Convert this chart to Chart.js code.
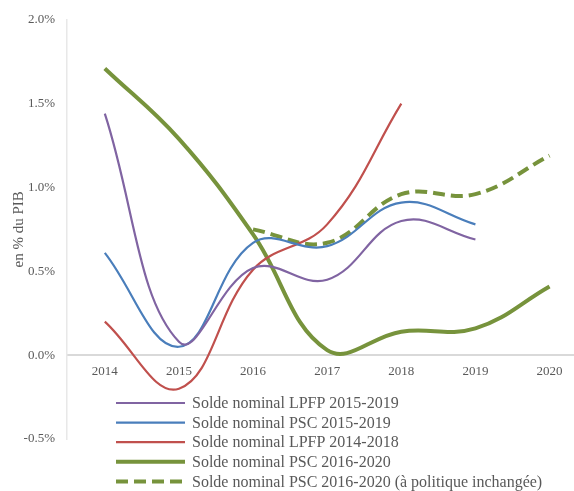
<!DOCTYPE html>
<html>
<head>
<meta charset="utf-8">
<script src="https://cdn.jsdelivr.net/npm/chart.js@4/dist/chart.umd.min.js"></script>
<style>
  html, body { margin: 0; padding: 0; background: #fff; }
  #wrap { width: 574px; height: 491px; }
</style>
</head>
<body>
<div id="wrap"><canvas id="chart"></canvas></div>
<script>
const years = [2014, 2015, 2016, 2017, 2018, 2019, 2020];
const lpfp1519 = [1.44, 0.08, 0.52, 0.45, 0.80, 0.69, null];
const psc1519 = [0.61, 0.05, 0.67, 0.65, 0.91, 0.78, null];
const lpfp1418 = [0.20, -0.20, 0.51, 0.78, 1.50, null, null];
const psc1620 = [1.71, 1.29, 0.72, 0.03, 0.14, 0.16, 0.41];
const psc1620inch = [null, null, 0.75, 0.67, 0.96, 0.96, 1.19];
const yTicks = [-0.5, 0, 0.5, 1.0, 1.5, 2.0];

const serif = "'Liberation Serif', 'Times New Roman', serif";
const grey = '#595959';

const pts = vals => years.map((y, i) => ({ x: y, y: vals[i] })).filter(p => p.y !== null);

const line = (label, vals, color, width, dash) => ({
  label, data: pts(vals),
  borderColor: color, backgroundColor: color,
  borderWidth: width, borderDash: dash || [],
  pointRadius: 0, tension: 0.4, fill: false
});

// legend drawn in a column below the plot, like the Excel original
const legendPlugin = {
  id: 'colLegend',
  afterDraw(chart) {
    const ctx = chart.ctx;
    ctx.save();
    ctx.font = '16px ' + serif;
    ctx.textBaseline = 'middle';
    chart.data.datasets.forEach((ds, i) => {
      const y = 403 + i * 19.6;
      ctx.strokeStyle = ds.borderColor;
      ctx.lineWidth = ds.borderWidth;
      ctx.setLineDash(ds.borderDash);
      ctx.beginPath();
      ctx.moveTo(116, y);
      ctx.lineTo(185, y);
      ctx.stroke();
      ctx.setLineDash([]);
      ctx.fillStyle = grey;
      ctx.fillText(ds.label, 192, y + 1);
    });
    ctx.restore();
  }
};

new Chart(document.getElementById('chart'), {
  type: 'line',
  data: {
    datasets: [
      line('Solde nominal LPFP 2015-2019', lpfp1519, '#8064A2', 2.2),
      line('Solde nominal PSC 2015-2019', psc1519, '#4A7EBB', 2.2),
      line('Solde nominal LPFP 2014-2018', lpfp1418, '#C0504D', 2.2),
      line('Solde nominal PSC 2016-2020', psc1620, '#77933C', 4),
      line('Solde nominal PSC 2016-2020 (à politique inchangée)', psc1620inch, '#77933C', 4, [12, 6])
    ]
  },
  options: {
    responsive: true,
    maintainAspectRatio: false,
    animation: false,
    layout: { padding: { top: 18, right: 0, bottom: 52, left: 0 } },
    plugins: { legend: { display: false }, tooltip: { enabled: false } },
    scales: {
      x: {
        type: 'linear',
        min: 2013.49,
        max: 2020.33,
        position: { y: 0 },
        afterBuildTicks: s => { s.ticks = years.map(v => ({ value: v })); },
        grid: { display: false, drawTicks: false },
        border: { color: '#d9d9d9', width: 2 },
        ticks: { color: grey, font: { family: serif, size: 13 }, padding: 9, callback: v => String(v) }
      },
      y: {
        min: -0.5,
        max: 2.0,
        afterBuildTicks: s => { s.ticks = yTicks.map(v => ({ value: v })); },
        afterFit: s => { s.width = 67; },
        grid: { display: false, drawTicks: false },
        border: { color: '#e8e8e8', width: 1.5 },
        ticks: { color: grey, font: { family: serif, size: 13 }, padding: 12, callback: v => v.toFixed(1) + '%' },
        title: { display: true, text: 'en % du PIB', color: grey, font: { family: serif, size: 15 }, padding: { top: 10, bottom: 0 } }
      }
    }
  },
  plugins: [legendPlugin]
});
</script>
</body>
</html>
